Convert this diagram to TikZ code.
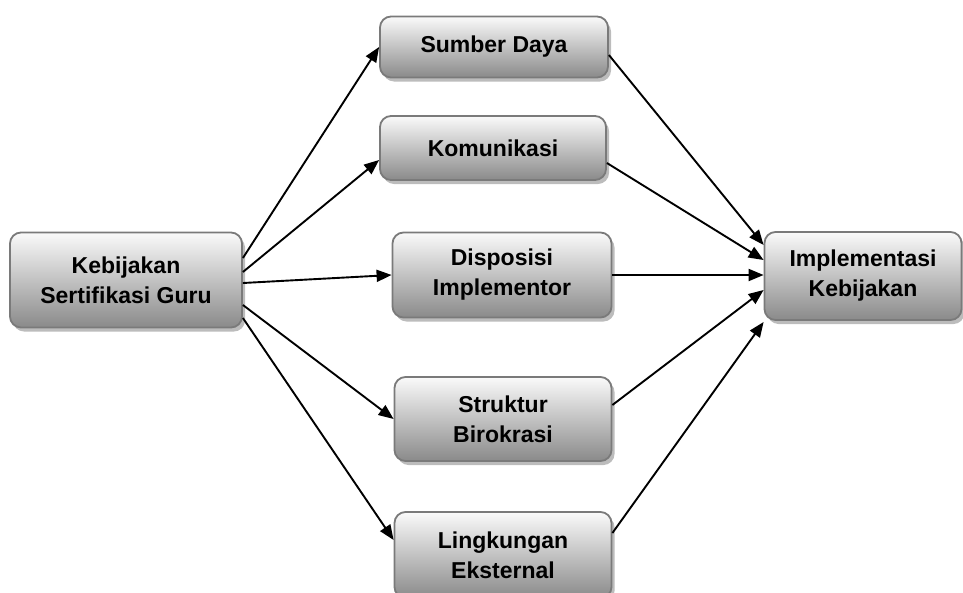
\documentclass[tikz,border=0pt]{standalone}
\usepackage{fontspec}
\setmainfont{Liberation Sans}
\usetikzlibrary{arrows.meta,shadows,positioning}
\definecolor{boxedge}{HTML}{7A7A7A}
\definecolor{boxtop}{HTML}{FAFAFA}
\definecolor{boxbottom}{HTML}{8A8A8A}
\definecolor{shadowgray}{HTML}{A0A0A0}
\tikzset{
  card/.style={draw=boxedge, line width=1.8pt, rounded corners=11pt,
    top color=boxtop, bottom color=boxbottom, align=center,
    font=\fontsize{23}{30}\selectfont\bfseries, inner sep=0pt,
    drop shadow={shadow xshift=3pt, shadow yshift=-4pt, fill=shadowgray, opacity=0.7}},
  link/.style={line width=1.9pt, -{Triangle[length=15pt,width=12pt]}}
}
\begin{document}
\begin{tikzpicture}[x=1pt,y=-1pt]
\useasboundingbox (0,0) rectangle (963,592);
\node[card, minimum width=232pt, minimum height=95pt] (kg) at (126,280) {Kebijakan\\Sertifikasi Guru};
\node[card, minimum width=228pt, minimum height=61pt] (sd) at (494,47) {Sumber Daya};
\node[card, minimum width=226pt, minimum height=64pt] (km) at (493,148) {Komunikasi};
\node[card, minimum width=219pt, minimum height=85pt] (dp) at (502,275) {Disposisi\\Implementor};
\node[card, minimum width=217pt, minimum height=84pt] (sb) at (503,419) {Struktur\\Birokrasi};
\node[card, minimum width=217pt, minimum height=86pt] (le) at (503,555) {Lingkungan\\Eksternal};
\node[card, minimum width=197pt, minimum height=88pt] (ik) at (863,276) {Implementasi\\Kebijakan};

% from the policy to the five factors
\draw[link] ([yshift=22pt]kg.east) -- (sd.west);
\draw[link] ([yshift=8pt]kg.east) -- ([yshift=-12pt]km.west);
\draw[link] ([yshift=-3pt]kg.east) -- (dp.west);
\draw[link] ([yshift=-25pt]kg.east) -- (sb.west);
\draw[link] ([yshift=-38pt]kg.east) -- ([yshift=15pt]le.west);

% from the five factors to implementation
\draw[link] ([yshift=-8pt]sd.east) -- ([yshift=31pt]ik.west);
\draw[link] ([yshift=-15pt]km.east) -- ([yshift=16pt]ik.west);
\draw[link] (dp.east) -- ([yshift=1pt]ik.west);
\draw[link] ([yshift=14pt]sb.east) -- ([yshift=-14pt]ik.west);
\draw[link] ([yshift=22pt]le.east) -- ([yshift=-46pt]ik.west);
\end{tikzpicture}
\end{document}
